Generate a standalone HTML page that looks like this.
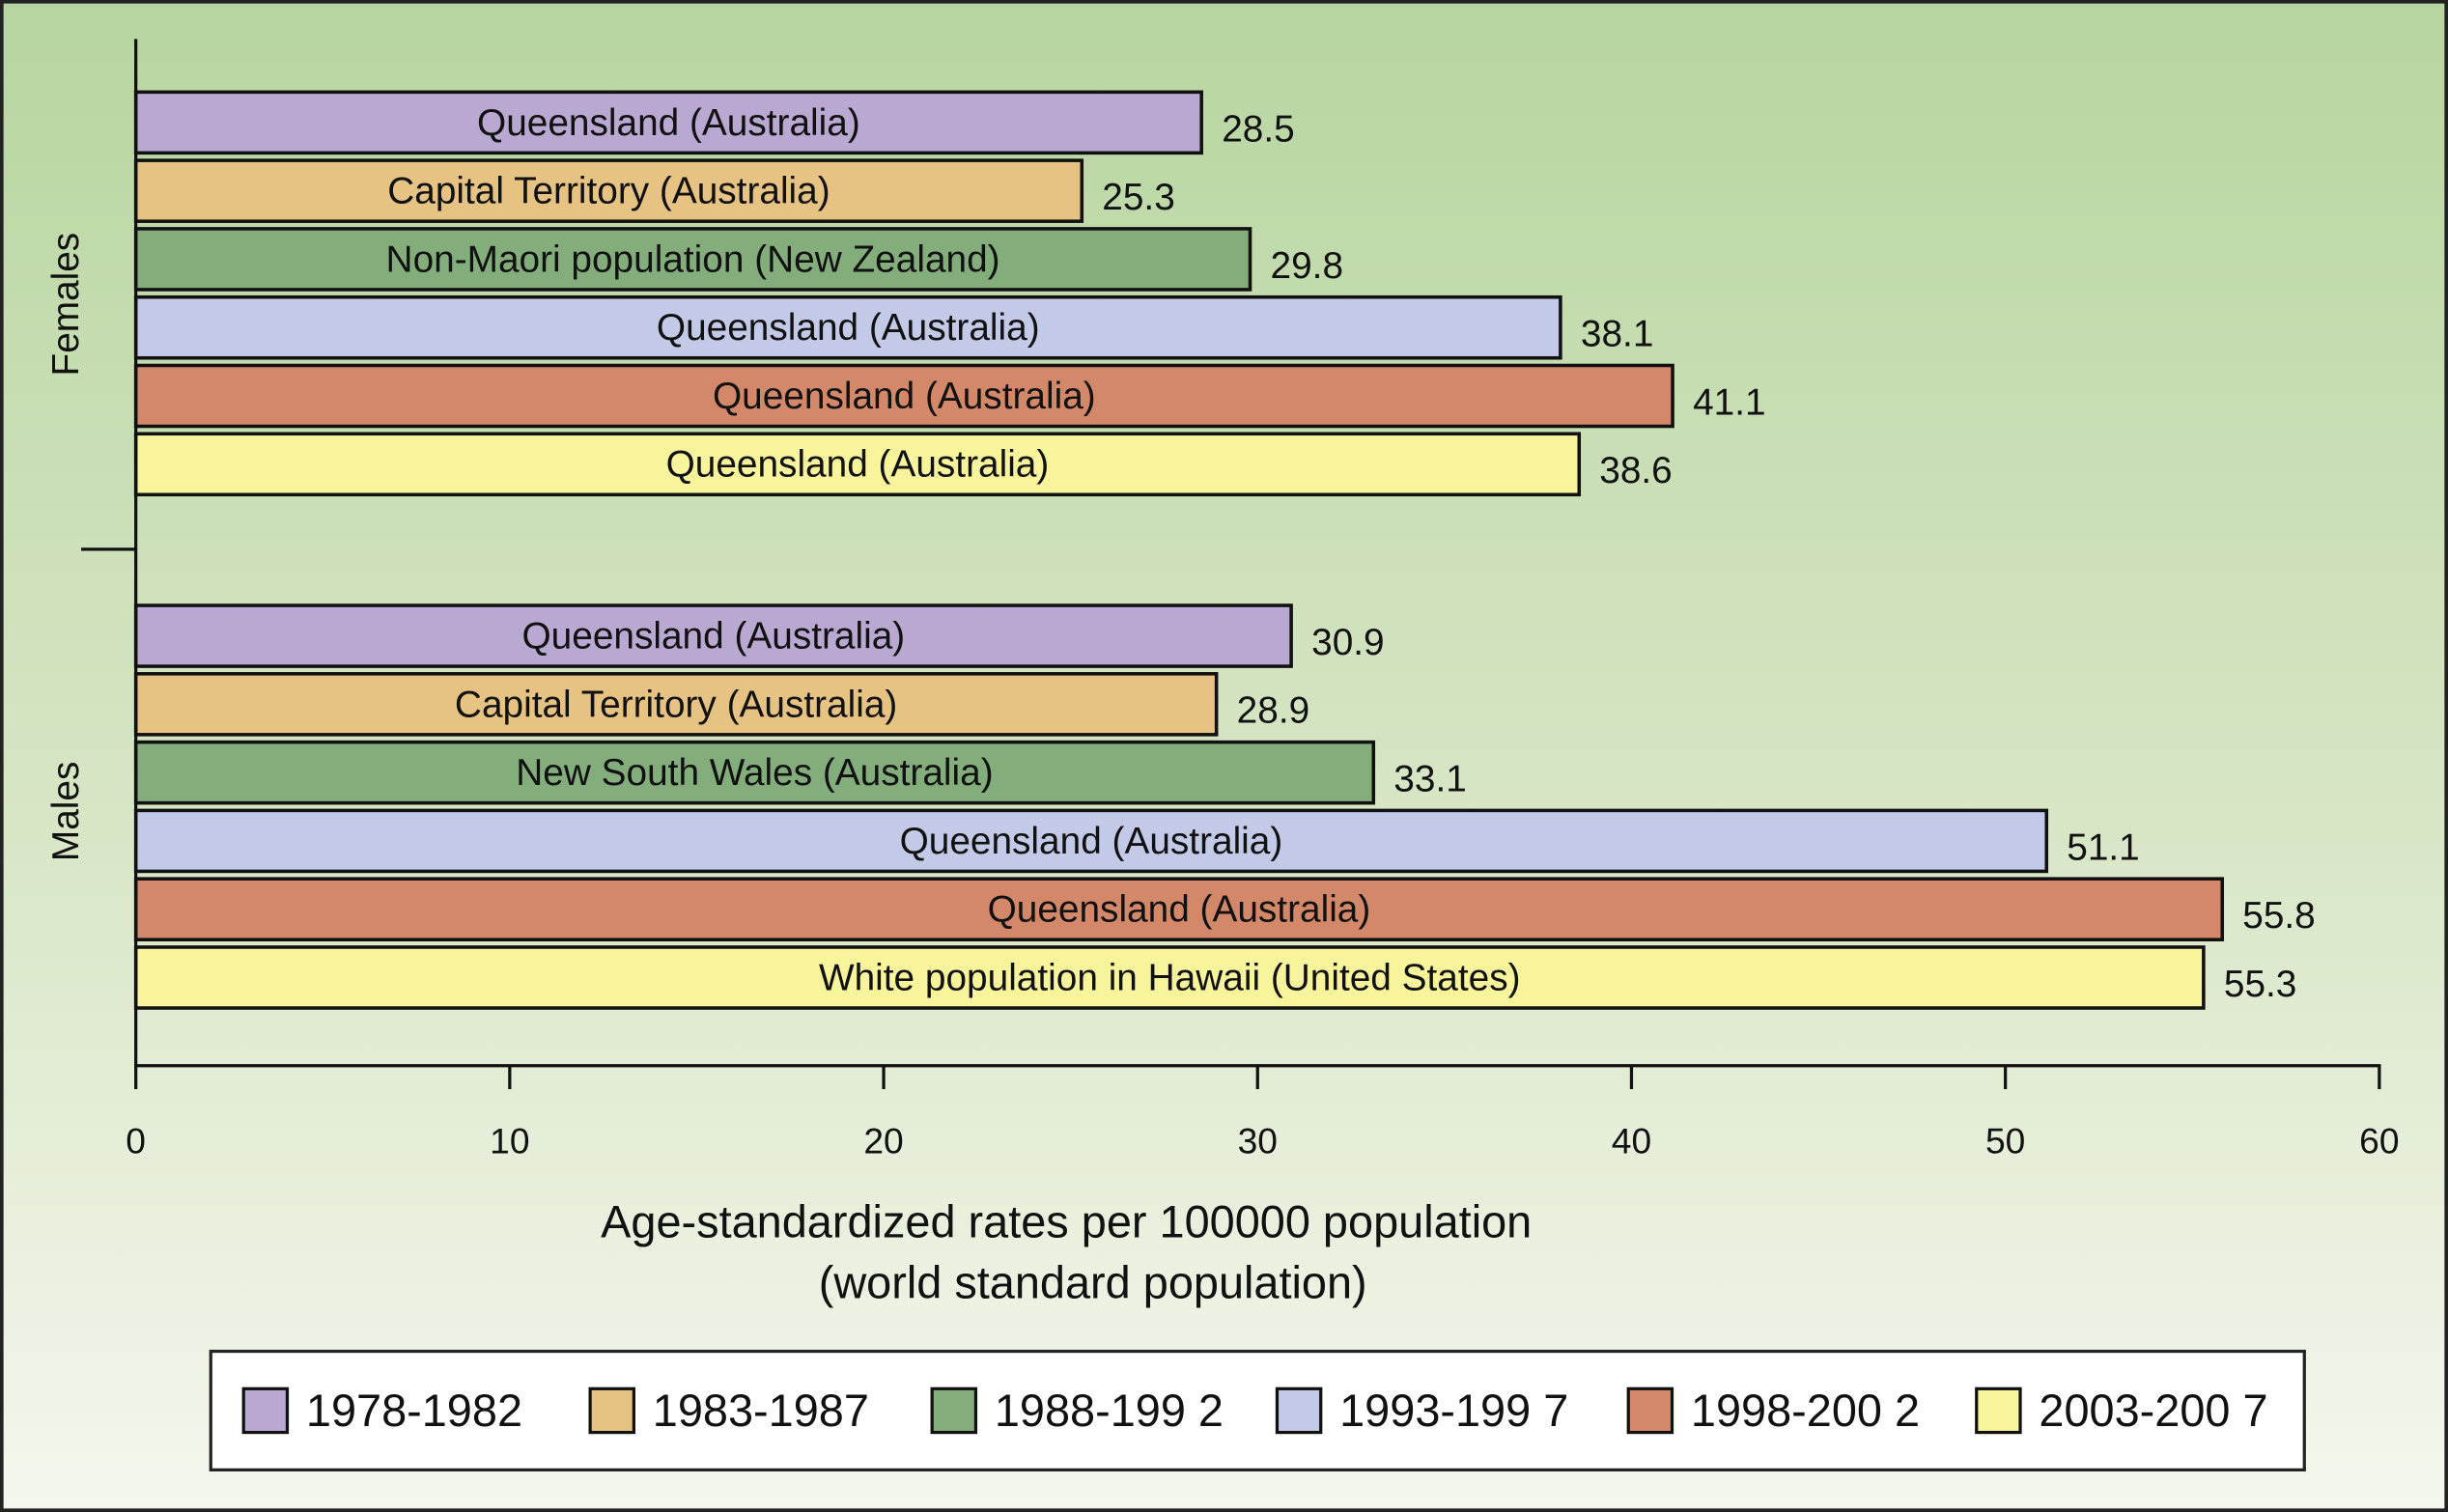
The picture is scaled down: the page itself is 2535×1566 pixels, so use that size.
<!DOCTYPE html>
<html><head><meta charset="utf-8"><style>
html,body{margin:0;padding:0;}
body{width:2535px;height:1566px;overflow:hidden;}
svg{display:block;}
text{font-family:"Liberation Sans Narrow","Liberation Sans",sans-serif;fill:#111;}
</style></head><body>
<svg id="chart" width="2535" height="1566" viewBox="0 0 1568 969" preserveAspectRatio="none" xmlns="http://www.w3.org/2000/svg">
<defs><linearGradient id="bg" x1="0" y1="0" x2="0" y2="1">
<stop offset="0" stop-color="#b7d5a0"/><stop offset="0.55" stop-color="#d8e6c6"/><stop offset="1" stop-color="#f4f7ee"/></linearGradient></defs>
<rect x="1" y="1" width="1566" height="967" fill="url(#bg)" stroke="#222" stroke-width="2.5"/>
<g id="bars"></g>
<g id="axes"></g>
<text transform="translate(50,195) rotate(-90)" text-anchor="middle" font-size="24" style="font-family:'Liberation Sans',sans-serif">Females</text>
<text transform="translate(50,520) rotate(-90)" text-anchor="middle" font-size="24" style="font-family:'Liberation Sans',sans-serif">Males</text>
<text x="683" y="793" text-anchor="middle" font-size="29">Age-standardized rates per 100000 population</text>
<text x="700" y="832" text-anchor="middle" font-size="29">(world standard population)</text>
<rect x="135" y="866" width="1341" height="76" fill="#fff" stroke="#222" stroke-width="2"/>
<g id="legend"></g>
</svg>
<script>
const periods=["1978-1982","1983-1987","1988-199 2","1993-199 7","1998-200 2","2003-200 7"];
const colors=["#b8a8d2","#e6c283","#83ae7c","#c3cae8","#d4886a","#f8f49c"];
const femaleValues=[28.5,25.3,29.8,38.1,41.1,38.6];
const femaleLabels=["Queensland (Australia)","Capital Territory (Australia)","Non-Maori population (New Zealand)","Queensland (Australia)","Queensland (Australia)","Queensland (Australia)"];
const maleValues=[30.9,28.9,33.1,51.1,55.8,55.3];
const maleLabels=["Queensland (Australia)","Capital Territory (Australia)","New South Wales (Australia)","Queensland (Australia)","Queensland (Australia)","White population in Hawaii (United States)"];
const xTicks=[0,10,20,30,40,50,60];
const NS="http://www.w3.org/2000/svg";
const x0=87,x1=1524,xMax=60;
const xs=v=>x0+(x1-x0)*v/xMax;
function mk(t,a,p){const e=document.createElementNS(NS,t);for(const k in a)e.setAttribute(k,a[k]);p.appendChild(e);return e;}
const bars=document.getElementById('bars');
function group(vals,labs,top,gname){
  vals.forEach((v,i)=>{
    const y=top+i*43.8,h=39;
    const r=mk('rect',{x:x0,y:y,width:xs(v)-x0,height:h,fill:colors[i],stroke:'#111','stroke-width':2.2},bars);
    
    
    const t=mk('text',{x:(x0+xs(v))/2,y:y+h/2+8,'text-anchor':'middle','font-size':24},bars);
    t.textContent=labs[i];
    
    
    const vt=mk('text',{x:xs(v)+13,y:y+h/2+12,'font-size':24},bars);
    vt.textContent=v.toFixed(1);
    
    
  });
}
group(femaleValues,femaleLabels,59,'female');
group(maleValues,maleLabels,388,'male');
const ax=document.getElementById('axes');
let l=mk('line',{x1:x0,y1:25,x2:x0,y2:684,stroke:'#111','stroke-width':2},ax);

l=mk('line',{x1:52,y1:352,x2:x0,y2:352,stroke:'#111','stroke-width':2},ax);

l=mk('line',{x1:x0,y1:683,x2:x1+1,y2:683,stroke:'#111','stroke-width':2},ax);

xTicks.forEach(v=>{
  const tk=mk('line',{x1:xs(v),y1:683,x2:xs(v),y2:698,stroke:'#111','stroke-width':2},ax);
  
  
  const t=mk('text',{x:xs(v),y:739,'text-anchor':'middle','font-size':23},ax);
  t.textContent=v;
  
  
});
const lg=document.getElementById('legend');
const lx=[156,378,597,818,1043,1266];
periods.forEach((p,i)=>{
  const s=mk('rect',{x:lx[i],y:890,width:28,height:28,fill:colors[i],stroke:'#111','stroke-width':2},lg);
  
  
  const t=mk('text',{x:lx[i]+40,y:914,'font-size':29},lg);
  t.textContent=p;
  
  
});
</script>
</body></html>
